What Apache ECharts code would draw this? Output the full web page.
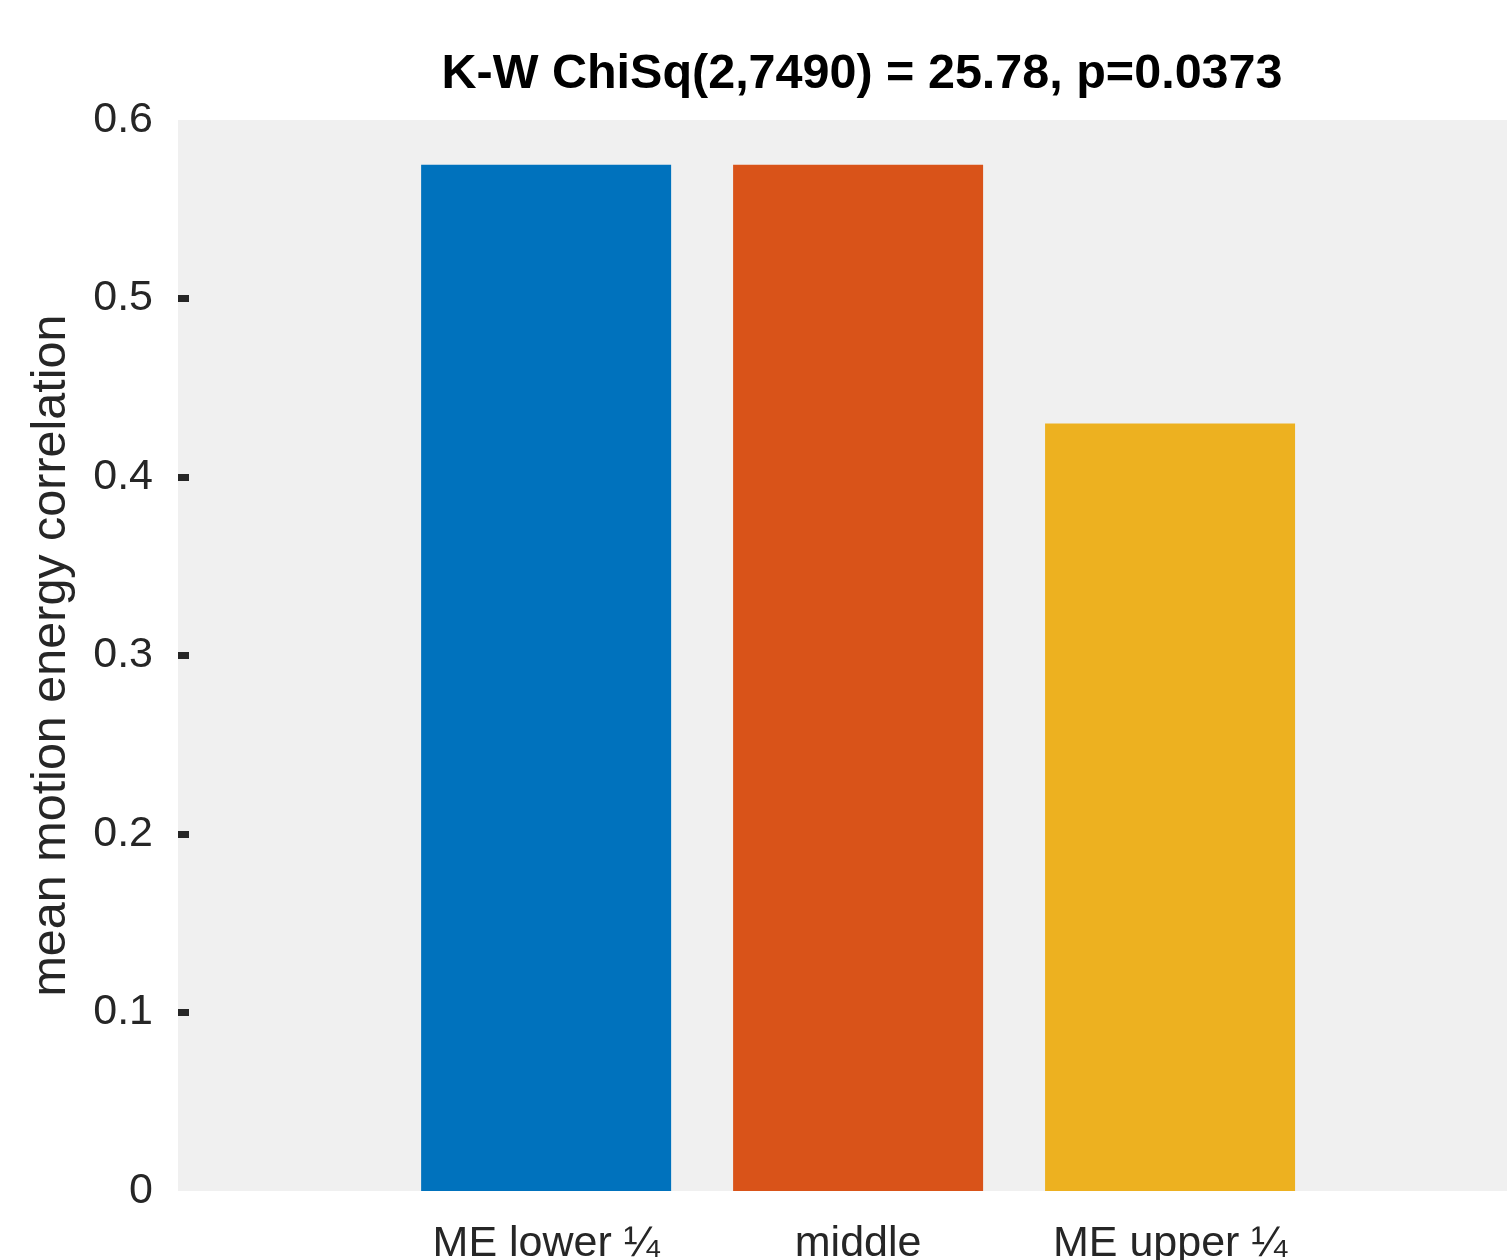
<!DOCTYPE html>
<html>
<head>
<meta charset="utf-8">
<script src="https://cdn.jsdelivr.net/npm/echarts@6/dist/echarts.min.js"></script>
<style>
  html, body { margin: 0; padding: 0; background: #fff; }
  #main { width: 1507px; height: 1260px; }
</style>
</head>
<body>
<div id="main"></div>
<script>
// data
var categories = ['ME lower ¼', 'middle', 'ME upper ¼'];
var xPos = [1, 2, 3];
var values = [0.575, 0.575, 0.430];
var barColors = ['#0072BD', '#D95319', '#EDB120'];
var yTicks = [0.1, 0.2, 0.3, 0.4, 0.5];

var font = 'Liberation Sans, Arial, Helvetica, sans-serif';
var textColor = '#262626';

var chart = echarts.init(document.getElementById('main'), null, { renderer: 'canvas' });

var barData = [];
for (var i = 0; i < values.length; i++) {
  barData.push({ value: [xPos[i], values[i]], itemStyle: { color: barColors[i] } });
}

var option = {
  animation: false,
  backgroundColor: '#ffffff',
  title: {
    text: 'K-W ChiSq(2,7490) = 25.78, p=0.0373',
    left: 857,
    top: 45,
    textAlign: 'center',
    textStyle: { fontFamily: font, fontSize: 48.5, fontWeight: 'bold', color: '#000' }
  },
  grid: {
    left: 178, right: 0, top: 120, bottom: 69,
    outerBoundsMode: 'none',
    containLabel: false,
    show: true, backgroundColor: '#f0f0f0', borderWidth: 0
  },
  xAxis: {
    type: 'value',
    min: -0.18,
    max: 4.08,
    axisLine: { show: false, onZero: false },
    axisTick: { show: false },
    splitLine: { show: false },
    axisLabel: {
      customValues: xPos,
      margin: 32,
      fontFamily: font,
      fontSize: 43,
      color: textColor,
      formatter: function (v) {
        var idx = xPos.indexOf(Math.round(v));
        return idx >= 0 ? categories[idx] : '';
      }
    }
  },
  yAxis: {
    type: 'value',
    min: 0,
    max: 0.6,
    interval: 0.1,
    name: 'mean motion energy correlation',
    nameLocation: 'middle',
    nameGap: 102,
    nameTextStyle: { fontFamily: font, fontSize: 48.5, color: textColor },
    axisLine: { show: false, onZero: false },
    splitLine: { show: false },
    axisTick: {
      show: true,
      inside: true,
      length: 11,
      customValues: yTicks,
      lineStyle: { color: textColor, width: 7 }
    },
    axisLabel: {
      margin: 25,
      fontFamily: font,
      fontSize: 43,
      color: textColor,
      padding: [8, 0, 0, 0]
    }
  },
  series: [{
    type: 'bar',
    barWidth: 250,
    data: barData
  }]
};

chart.setOption(option);
</script>
</body>
</html>
